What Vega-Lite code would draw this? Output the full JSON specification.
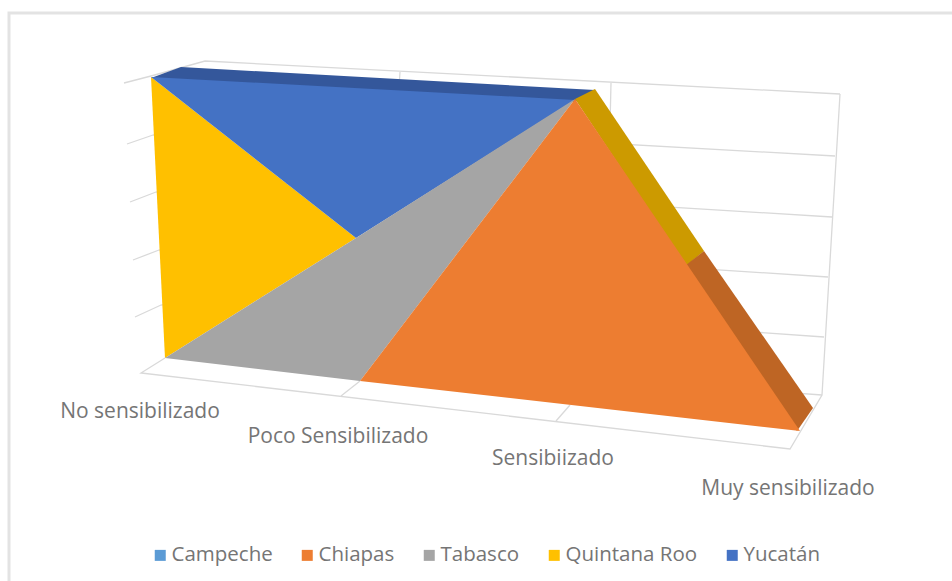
{"$schema":"https://vega.github.io/schema/vega-lite/v6.json","width":952,"height":581,"padding":0,"autosize":{"type":"none"},"background":"white","config":{"view":{"stroke":null}},"datasets":{"marco":[{"linea":"superior","orden":1,"x":952,"y":13},{"linea":"superior","orden":2,"x":9,"y":13},{"linea":"superior","orden":3,"x":9,"y":581}],"rejilla":[{"linea":"g0","orden":1,"x":124,"y":83},{"linea":"g0","orden":2,"x":151,"y":76},{"linea":"g0","orden":3,"x":205,"y":61},{"linea":"g0","orden":4,"x":840,"y":94},{"linea":"g1","orden":1,"x":127,"y":144},{"linea":"g1","orden":2,"x":153,"y":135},{"linea":"g1","orden":3,"x":208,"y":121},{"linea":"g1","orden":4,"x":835,"y":156},{"linea":"g2","orden":1,"x":130,"y":202},{"linea":"g2","orden":2,"x":156,"y":192},{"linea":"g2","orden":3,"x":210,"y":179},{"linea":"g2","orden":4,"x":832,"y":217},{"linea":"g3","orden":1,"x":133,"y":260},{"linea":"g3","orden":2,"x":159,"y":250},{"linea":"g3","orden":3,"x":212,"y":237},{"linea":"g3","orden":4,"x":828,"y":277},{"linea":"g4","orden":1,"x":135,"y":317},{"linea":"g4","orden":2,"x":161,"y":305},{"linea":"g4","orden":3,"x":214,"y":294},{"linea":"g4","orden":4,"x":824,"y":337},{"linea":"suelo","orden":1,"x":165,"y":358},{"linea":"suelo","orden":2,"x":141,"y":373},{"linea":"suelo","orden":3,"x":790,"y":449},{"linea":"suelo","orden":4,"x":822,"y":395},{"linea":"suelo","orden":5,"x":840,"y":94},{"linea":"fondo","orden":1,"x":216,"y":351},{"linea":"fondo","orden":2,"x":822,"y":395},{"linea":"v1","orden":1,"x":400,"y":72},{"linea":"v1","orden":2,"x":397,"y":120},{"linea":"v2","orden":1,"x":611,"y":83},{"linea":"v2","orden":2,"x":610,"y":125},{"linea":"t1","orden":1,"x":341,"y":396},{"linea":"t1","orden":2,"x":360,"y":381},{"linea":"t2","orden":1,"x":556,"y":421},{"linea":"t2","orden":2,"x":570,"y":405}],"caras":[{"serie":"Quintana Roo","orden":1,"x":151,"y":77},{"serie":"Quintana Roo","orden":2,"x":356,"y":238},{"serie":"Quintana Roo","orden":3,"x":165,"y":358},{"serie":"Yucatán","orden":1,"x":151,"y":77},{"serie":"Yucatán","orden":2,"x":575,"y":100},{"serie":"Yucatán","orden":3,"x":356,"y":238},{"serie":"Tabasco","orden":1,"x":165,"y":358},{"serie":"Tabasco","orden":2,"x":356,"y":238},{"serie":"Tabasco","orden":3,"x":575,"y":99},{"serie":"Tabasco","orden":4,"x":360,"y":381},{"serie":"Chiapas","orden":1,"x":575,"y":99},{"serie":"Chiapas","orden":2,"x":800,"y":431},{"serie":"Chiapas","orden":3,"x":360,"y":381}],"lados":[{"serie":"Yucatán","orden":1,"x":151,"y":78},{"serie":"Yucatán","orden":2,"x":181,"y":67},{"serie":"Yucatán","orden":3,"x":595,"y":90},{"serie":"Yucatán","orden":4,"x":575,"y":102},{"serie":"Quintana Roo","orden":1,"x":575,"y":99},{"serie":"Quintana Roo","orden":2,"x":595,"y":89},{"serie":"Quintana Roo","orden":3,"x":704,"y":251},{"serie":"Quintana Roo","orden":4,"x":686,"y":266},{"serie":"Chiapas","orden":1,"x":686,"y":265},{"serie":"Chiapas","orden":2,"x":704,"y":251},{"serie":"Chiapas","orden":3,"x":813,"y":408},{"serie":"Chiapas","orden":4,"x":797,"y":431}],"categorias":[{"categoria":"No sensibilizado","x":140,"y":412},{"categoria":"Poco Sensibilizado","x":338,"y":437},{"categoria":"Sensibiizado","x":553,"y":459},{"categoria":"Muy sensibilizado","x":788,"y":489}]},"encoding":{"x":{"field":"x","type":"quantitative","scale":{"domain":[0,952]},"axis":null},"y":{"field":"y","type":"quantitative","scale":{"domain":[581,0]},"axis":null},"order":{"field":"orden","type":"quantitative"}},"layer":[{"data":{"name":"marco"},"mark":{"type":"line","stroke":"#e3e3e3","strokeWidth":3},"encoding":{"detail":{"field":"linea"}}},{"data":{"name":"rejilla"},"mark":{"type":"line","stroke":"#d9d9d9","strokeWidth":1.3},"encoding":{"detail":{"field":"linea"}}},{"data":{"name":"lados"},"mark":{"type":"line","strokeWidth":0},"encoding":{"fill":{"field":"serie","type":"nominal","legend":null,"scale":{"domain":["Chiapas","Quintana Roo","Yucatán"],"range":["#BE6524","#CC9A00","#34579B"]}}}},{"data":{"name":"caras"},"mark":{"type":"line","strokeWidth":0},"encoding":{"fill":{"field":"serie","type":"nominal","scale":{"domain":["Campeche","Chiapas","Tabasco","Quintana Roo","Yucatán"],"range":["#5B9BD5","#ED7D31","#A5A5A5","#FFC000","#4472C4"]},"legend":{"orient":"none","legendX":150,"legendY":545,"direction":"horizontal","columns":5,"title":null,"symbolType":"square","symbolSize":121,"symbolStrokeWidth":0,"labelFont":"Open Sans","labelFontSize":20.5,"labelColor":"#757575","columnPadding":24,"labelOffset":1}}}},{"data":{"name":"categorias"},"mark":{"type":"text","font":"Open Sans","fontSize":21,"color":"#757575","align":"center","baseline":"middle"},"encoding":{"text":{"field":"categoria"},"order":null}}],"resolve":{"scale":{"fill":"independent"}}}
